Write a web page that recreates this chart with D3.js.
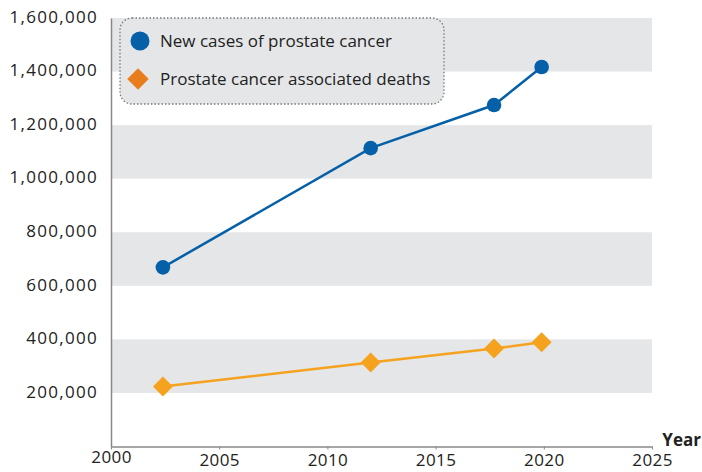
<!DOCTYPE html>
<html>
<head>
<meta charset="utf-8">
<script src="https://cdn.jsdelivr.net/npm/d3@7"></script>
<style>
  body { margin: 0; background: #fff; }
  svg text { font-family: "Open Sans", "Noto Sans", sans-serif; fill: #222; }
</style>
</head>
<body>
<svg id="chart" width="702" height="472"></svg>
<script>
// values
var caseYears = [2002.4, 2012, 2017.7, 2019.9];
var caseValues = [669000, 1114000, 1275000, 1417000];
var deathYears = [2002.4, 2012, 2017.7, 2019.9];
var deathValues = [224000, 314000, 366000, 389000];
var xTicks = [2000, 2005, 2010, 2015, 2020, 2025];
var yTicks = [200000, 400000, 600000, 800000, 1000000, 1200000, 1400000, 1600000];
var bands = [[200000, 400000], [600000, 800000], [1000000, 1200000], [1400000, 1600000]];
var legendLabels = ["New cases of prostate cancer", "Prostate cancer associated deaths"];

var svg = d3.select("#chart");

var x = d3.scaleLinear().domain([2000, 2025]).range([111, 652]);
var y = d3.scaleLinear().domain([0, 1600000]).range([446.5, 18]);

// grey bands
svg.selectAll("rect.band")
  .data(bands)
  .enter().append("rect")
  .attr("class", "band")
  .attr("x", x(2000))
  .attr("width", x(2025) - x(2000))
  .attr("y", function(d) { return y(d[1]); })
  .attr("height", function(d) { return y(d[0]) - y(d[1]); })
  .attr("fill", "#e5e6e8");

// y axis
var yAxis = svg.append("g")
  .attr("transform", "translate(" + x(2000) + ",0)")
  .call(d3.axisLeft(y).tickValues(yTicks).tickSize(0).tickPadding(13)
    .tickFormat(d3.format(",")));
yAxis.select(".domain").attr("stroke", "#888").attr("stroke-width", 1.5);
yAxis.selectAll("text")
  .attr("font-size", "17px")
  .attr("letter-spacing", "1.3px")
  .attr("dy", "0.25em");

// x axis
var xAxis = svg.append("g")
  .attr("transform", "translate(0," + y(0) + ")")
  .call(d3.axisBottom(x).tickValues(xTicks).tickSize(3).tickSizeOuter(0)
    .tickPadding(4).tickFormat(d3.format("d")));
xAxis.select(".domain").attr("stroke", "#888").attr("stroke-width", 1.5);
xAxis.selectAll("line").attr("stroke", "#888");
xAxis.selectAll("text")
  .attr("font-size", "17px")
  .attr("letter-spacing", "0.4px")
  .attr("dy", function(d) { return d === 2000 ? "0.55em" : "0.75em"; });

svg.append("text")
  .attr("x", 701)
  .attr("y", 446)
  .attr("text-anchor", "end")
  .attr("font-size", "17px")
  .attr("font-weight", "bold")
  .text("Year");

// lines
var line = d3.line()
  .x(function(d) { return x(d[0]); })
  .y(function(d) { return y(d[1]); });

var cases = d3.zip(caseYears, caseValues);
var deaths = d3.zip(deathYears, deathValues);

svg.append("path")
  .datum(deaths)
  .attr("d", line)
  .attr("fill", "none")
  .attr("stroke", "#f5a31f")
  .attr("stroke-width", 2.5);

svg.selectAll("path.dmark")
  .data(deaths)
  .enter().append("path")
  .attr("class", "dmark")
  .attr("d", d3.symbol(d3.symbolSquare, 200))
  .attr("transform", function(d) { return "translate(" + x(d[0]) + "," + y(d[1]) + ") rotate(45)"; })
  .attr("fill", "#f5a31f");

svg.append("path")
  .datum(cases)
  .attr("d", line)
  .attr("fill", "none")
  .attr("stroke", "#0560a8")
  .attr("stroke-width", 2.5);

svg.selectAll("circle.cmark")
  .data(cases)
  .enter().append("circle")
  .attr("class", "cmark")
  .attr("cx", function(d) { return x(d[0]); })
  .attr("cy", function(d) { return y(d[1]); })
  .attr("r", 7.3)
  .attr("fill", "#0560a8");

// legend
var legend = svg.append("g");
legend.append("rect")
  .attr("x", 120)
  .attr("y", 18)
  .attr("width", 324)
  .attr("height", 86)
  .attr("rx", 12)
  .attr("fill", "#e5e6e8")
  .attr("stroke", "#777")
  .attr("stroke-width", 1.3)
  .attr("stroke-dasharray", "1.5,2");

legend.append("circle")
  .attr("cx", 140)
  .attr("cy", 41)
  .attr("r", 9.5)
  .attr("fill", "#0560a8");

legend.append("path")
  .attr("d", d3.symbol(d3.symbolSquare, 230))
  .attr("transform", "translate(138,79) rotate(45)")
  .attr("fill", "#e87d1e");

legend.selectAll("text.leg")
  .data(legendLabels)
  .enter().append("text")
  .attr("class", "leg")
  .attr("x", 160)
  .attr("y", function(d, i) { return 41 + i * 38; })
  .attr("dy", "0.35em")
  .attr("font-size", "17px")
  .text(function(d) { return d; });
</script>
</body>
</html>
